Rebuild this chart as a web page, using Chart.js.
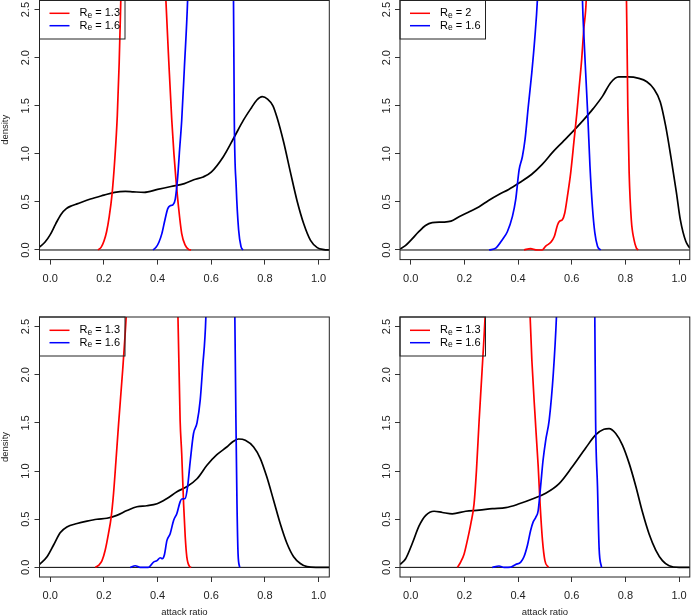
<!DOCTYPE html>
<html><head><meta charset="utf-8">
<script src="https://cdn.jsdelivr.net/npm/chart.js@4.4.0/dist/chart.umd.min.js"></script>
<style>
html,body{margin:0;padding:0;background:#fff;}
body{width:691px;height:616px;position:relative;overflow:hidden;}
canvas{position:absolute;}
</style></head><body>
<canvas id="c1"></canvas><canvas id="c2"></canvas><canvas id="c3"></canvas><canvas id="c4"></canvas>
<script>
// ---- axis definitions ----
const xTicks = [0, 0.2, 0.4, 0.6, 0.8, 1.0];
const xTickLabels = ['0.0','0.2','0.4','0.6','0.8','1.0'];
const yTicks = [0, 0.5, 1.0, 1.5, 2.0, 2.5];
const yTickLabels = ['0.0','0.5','1.0','1.5','2.0','2.5'];
const xRange = [-0.04, 1.04];
const yRange = [-0.1, 2.6];
const xTitle = 'attack ratio';
const yTitle = 'density';
const legendRed = ['1.3', '2', '1.3', '1.3'];
const legendBlue = ['1.6', '1.6', '1.6', '1.6'];

// ---- panel 1 (top-left) ----
const p1Black = [[-0.04,0.03],[-0.02,0.08],[0.0,0.16],[0.02,0.27],[0.04,0.37],[0.06,0.43],[0.08,0.46],[0.1,0.48],[0.15,0.53],[0.2,0.57],[0.24,0.60],[0.28,0.61],[0.31,0.605],[0.35,0.60],[0.4,0.63],[0.45,0.66],[0.5,0.69],[0.535,0.73],[0.57,0.76],[0.6,0.81],[0.645,0.97],[0.685,1.17],[0.72,1.35],[0.75,1.48],[0.77,1.56],[0.79,1.595],[0.81,1.57],[0.83,1.50],[0.845,1.38],[0.87,1.12],[0.895,0.81],[0.92,0.51],[0.945,0.27],[0.97,0.10],[0.995,0.025],[1.02,0.004],[1.04,0]];
const p1Red = [[0.178,0],[0.19,0.03],[0.2,0.09],[0.21,0.19],[0.22,0.35],[0.23,0.57],[0.24,0.92],[0.25,1.4],[0.257,1.95],[0.263,2.6],[0.27,3.4],[0.35,8],[0.42,3.4],[0.431,2.6],[0.442,1.95],[0.453,1.35],[0.461,1.0],[0.468,0.75],[0.478,0.45],[0.49,0.17],[0.503,0.05],[0.516,0.005],[0.525,0]];
const p1Blue = [[0.383,0],[0.395,0.03],[0.405,0.08],[0.416,0.17],[0.428,0.32],[0.438,0.43],[0.447,0.46],[0.457,0.47],[0.466,0.53],[0.475,0.76],[0.482,1.04],[0.49,1.35],[0.5,1.9],[0.512,2.6],[0.52,3.4],[0.6,8],[0.678,3.4],[0.683,2.6],[0.686,1.35],[0.693,0.66],[0.702,0.21],[0.711,0.035],[0.718,0]];

// ---- panel 2 (top-right) ----
const p2Black = [[-0.04,0.01],[-0.02,0.045],[0.0,0.1],[0.03,0.19],[0.055,0.255],[0.08,0.284],[0.12,0.29],[0.15,0.30],[0.18,0.345],[0.22,0.40],[0.255,0.45],[0.29,0.515],[0.33,0.58],[0.365,0.63],[0.405,0.70],[0.45,0.785],[0.49,0.89],[0.53,1.02],[0.565,1.12],[0.6,1.22],[0.64,1.34],[0.68,1.47],[0.715,1.60],[0.745,1.74],[0.775,1.80],[0.81,1.80],[0.85,1.785],[0.88,1.75],[0.905,1.68],[0.93,1.54],[0.95,1.29],[0.97,0.96],[0.99,0.6],[1.005,0.31],[1.025,0.09],[1.04,0.02]];
const p2Red = [[0.422,0],[0.447,0.014],[0.466,0.002],[0.49,0],[0.503,0.04],[0.522,0.08],[0.535,0.14],[0.547,0.26],[0.555,0.30],[0.565,0.315],[0.574,0.385],[0.584,0.56],[0.596,0.80],[0.609,1.15],[0.619,1.42],[0.627,1.67],[0.637,1.98],[0.645,2.3],[0.654,2.6],[0.66,3.2],[0.73,8],[0.8,3.2],[0.804,2.6],[0.806,2.19],[0.809,1.49],[0.814,0.80],[0.822,0.315],[0.832,0.107],[0.841,0.02],[0.848,0]];
const p2Blue = [[0.292,0],[0.317,0.02],[0.342,0.11],[0.36,0.19],[0.379,0.35],[0.391,0.52],[0.404,0.835],[0.416,0.97],[0.426,1.15],[0.438,1.49],[0.451,1.84],[0.462,2.19],[0.472,2.6],[0.48,3.2],[0.56,8],[0.636,3.2],[0.64,2.6],[0.646,2.19],[0.652,1.84],[0.66,1.39],[0.668,0.87],[0.677,0.45],[0.686,0.18],[0.696,0.04],[0.708,0]];

// ---- panel 3 (bottom-left) ----
const p3Black = [[-0.04,0.03],[-0.012,0.11],[0.012,0.23],[0.037,0.36],[0.062,0.42],[0.1,0.455],[0.137,0.48],[0.174,0.50],[0.211,0.51],[0.248,0.54],[0.286,0.59],[0.323,0.63],[0.36,0.64],[0.398,0.66],[0.435,0.715],[0.472,0.785],[0.51,0.84],[0.547,0.92],[0.584,1.06],[0.621,1.17],[0.658,1.25],[0.683,1.31],[0.702,1.333],[0.727,1.32],[0.758,1.25],[0.783,1.13],[0.807,0.94],[0.832,0.70],[0.857,0.455],[0.882,0.25],[0.907,0.11],[0.932,0.04],[0.957,0.007],[0.99,0],[1.04,0]];
const p3Red = [[0.168,0],[0.18,0.02],[0.193,0.07],[0.205,0.18],[0.217,0.35],[0.227,0.52],[0.236,0.77],[0.245,1.11],[0.255,1.5],[0.27,2.05],[0.283,2.6],[0.29,3.0],[0.38,8],[0.47,3.0],[0.476,2.6],[0.484,1.53],[0.49,1.18],[0.497,0.66],[0.503,0.32],[0.509,0.11],[0.519,0.01],[0.525,0]];
const p3Blue = [[0.298,0],[0.317,0.017],[0.335,0],[0.366,0],[0.385,0.055],[0.398,0.07],[0.41,0.1],[0.418,0.09],[0.425,0.125],[0.435,0.28],[0.447,0.35],[0.46,0.49],[0.472,0.56],[0.484,0.68],[0.49,0.71],[0.503,0.715],[0.512,0.84],[0.522,1.11],[0.534,1.39],[0.547,1.5],[0.559,1.74],[0.568,2.08],[0.58,2.6],[0.585,3.2],[0.64,8],[0.685,3.2],[0.688,2.6],[0.692,1.53],[0.696,0.66],[0.70,0.14],[0.706,0]];

// ---- panel 4 (bottom-right) ----
const p4Black = [[-0.04,0.03],[-0.019,0.09],[0.006,0.25],[0.031,0.43],[0.056,0.54],[0.087,0.583],[0.118,0.57],[0.155,0.556],[0.205,0.583],[0.255,0.594],[0.304,0.61],[0.354,0.62],[0.404,0.66],[0.453,0.71],[0.503,0.77],[0.553,0.87],[0.602,1.045],[0.652,1.24],[0.689,1.375],[0.72,1.434],[0.739,1.44],[0.764,1.39],[0.789,1.27],[0.814,1.08],[0.839,0.84],[0.863,0.58],[0.888,0.35],[0.913,0.18],[0.938,0.07],[0.963,0.017],[1.0,0],[1.04,0]];
const p4Red = [[0.174,0],[0.186,0.055],[0.199,0.14],[0.211,0.28],[0.224,0.455],[0.236,0.66],[0.245,1.01],[0.255,1.53],[0.266,2.05],[0.277,2.6],[0.285,3.2],[0.36,8],[0.44,3.2],[0.445,2.6],[0.466,1.45],[0.475,1.05],[0.482,0.66],[0.491,0.28],[0.5,0.07],[0.513,0]];
const p4Blue = [[0.304,0],[0.329,0.014],[0.348,0],[0.373,0.003],[0.391,0.03],[0.41,0.055],[0.422,0.11],[0.435,0.23],[0.447,0.385],[0.456,0.47],[0.466,0.52],[0.475,0.59],[0.484,0.84],[0.493,1.11],[0.503,1.32],[0.516,1.53],[0.531,2.0],[0.543,2.6],[0.55,3.2],[0.62,8],[0.683,3.2],[0.686,2.6],[0.689,1.53],[0.696,0.84],[0.702,0.2],[0.711,0]];

const zeroLine = [[xRange[0],0],[xRange[1],0]];

const panelData = [
  {black:p1Black, red:p1Red, blue:p1Blue},
  {black:p2Black, red:p2Red, blue:p2Blue},
  {black:p3Black, red:p3Red, blue:p3Blue},
  {black:p4Black, red:p4Red, blue:p4Blue}
];
// layout (positions only)
const panelLayout = [
  {id:'c1', left:0,   top:0,   W:345, H:300, padT:0,  padR:15.7, yW:39.5, xH:40.4, showY:true,  showX:false},
  {id:'c2', left:345, top:0,   W:358, H:300, padT:0,  padR:13.2, yW:55,   xH:40.4, showY:false, showX:false},
  {id:'c3', left:0,   top:300, W:345, H:316, padT:17, padR:15.7, yW:39.5, xH:39,   showY:true,  showX:true},
  {id:'c4', left:345, top:300, W:358, H:316, padT:17, padR:13.2, yW:55,   xH:39,   showY:false, showX:true}
];

const FONT = '"Liberation Sans", Arial, Helvetica, sans-serif';
const toPts = a => a.map(p => ({x:p[0], y:p[1]}));

function makePanel(idx){
  const L = panelLayout[idx], D = panelData[idx];
  const cv = document.getElementById(L.id);
  cv.width = L.W; cv.height = L.H;
  cv.style.left = L.left + 'px'; cv.style.top = L.top + 'px';
  cv.style.width = L.W + 'px'; cv.style.height = L.H + 'px';

  const deco = {
    id: 'deco' + idx,
    afterDraw(chart){
      const ctx = chart.ctx, a = chart.chartArea, ys = chart.scales.y;
      ctx.save();
      // box
      ctx.strokeStyle = '#222'; ctx.lineWidth = 1;
      const t = a.top === 0 ? 0.5 : a.top;
      ctx.strokeRect(a.left, t, a.right - a.left, a.bottom - t);
      // y tick labels (rotated like R)
      ctx.fillStyle = '#222';
      ctx.font = '11px ' + FONT;
      ctx.textAlign = 'center'; ctx.textBaseline = 'alphabetic';
      yTicks.forEach((v, i) => {
        const py = ys.getPixelForValue(v);
        ctx.save(); ctx.translate(a.left - 10.5, py); ctx.rotate(-Math.PI/2);
        ctx.fillText(yTickLabels[i], 0, 0); ctx.restore();
      });
      // legend
      const lx = a.left, ly = a.top;
      ctx.strokeStyle = '#222'; ctx.lineWidth = 1;
      ctx.strokeRect(lx, ly === 0 ? 0.5 : ly, 85.5, 39 - (ly === 0 ? 0.5 : 0));
      const rows = [{c:'#ff0000', v:legendRed[idx], y:ly+13.3}, {c:'#0000ff', v:legendBlue[idx], y:ly+25.7}];
      rows.forEach(r => {
        ctx.strokeStyle = r.c; ctx.lineWidth = 1.5;
        ctx.beginPath(); ctx.moveTo(lx+10, r.y); ctx.lineTo(lx+30, r.y); ctx.stroke();
        ctx.fillStyle = '#000'; ctx.textAlign = 'left'; ctx.textBaseline = 'middle';
        let x = lx + 40;
        ctx.font = '11px ' + FONT; ctx.fillText('R', x, r.y); x += ctx.measureText('R').width;
        ctx.font = '8.5px ' + FONT; ctx.fillText('e', x, r.y + 2.2); x += ctx.measureText('e').width;
        ctx.font = '11px ' + FONT; ctx.fillText(' = ' + r.v, x, r.y);
      });
      ctx.restore();
    }
  };

  const common = {fill:false, pointRadius:0, borderWidth:1.7, clip:0, cubicInterpolationMode:'monotone'};
  new Chart(cv, {
    type: 'line',
    data: {
      datasets: [
        Object.assign({label:'blue', data:toPts(D.blue), borderColor:'#0000ff'}, common),
        Object.assign({label:'red', data:toPts(D.red), borderColor:'#ff0000'}, common),
        Object.assign({label:'black', data:toPts(D.black), borderColor:'#000000'}, common),
        Object.assign({}, common, {label:'zero', data:toPts(zeroLine), borderColor:'#000000', borderWidth:1, cubicInterpolationMode:'default', tension:0})
      ]
    },
    options: {
      responsive:false, animation:false, devicePixelRatio:1, events:[],
      layout:{padding:{left:0, top:L.padT, right:L.padR, bottom:0}},
      plugins:{legend:{display:false}, tooltip:{enabled:false}},
      scales:{
        x:{
          type:'linear', min:xRange[0], max:xRange[1],
          afterBuildTicks: s => { s.ticks = xTicks.map(v => ({value:v})); },
          afterFit: s => { s.height = L.xH; },
          grid:{drawOnChartArea:false, drawTicks:true, tickLength:5, color:'#333', lineWidth:1},
          border:{display:false},
          ticks:{autoSkip:false, maxRotation:0, minRotation:0, padding:7.5, color:'#222',
                 font:{family:FONT, size:11}, callback:(v,i) => xTickLabels[i]},
          title:{display:L.showX, text:xTitle, color:'#222', padding:0, font:{family:FONT, size:9.5, lineHeight:0.8}}
        },
        y:{
          type:'linear', min:yRange[0], max:yRange[1],
          afterBuildTicks: s => { s.ticks = yTicks.map(v => ({value:v})); },
          afterFit: s => { s.width = L.yW; },
          grid:{drawOnChartArea:false, drawTicks:true, tickLength:5, color:'#333', lineWidth:1},
          border:{display:false},
          ticks:{display:false},
          title:{display:L.showY, text:yTitle, color:'#222', padding:0, font:{family:FONT, size:9.5, lineHeight:1.1}}
        }
      }
    },
    plugins:[deco]
  });
}
[0,1,2,3].forEach(makePanel);
</script>
</body></html>
